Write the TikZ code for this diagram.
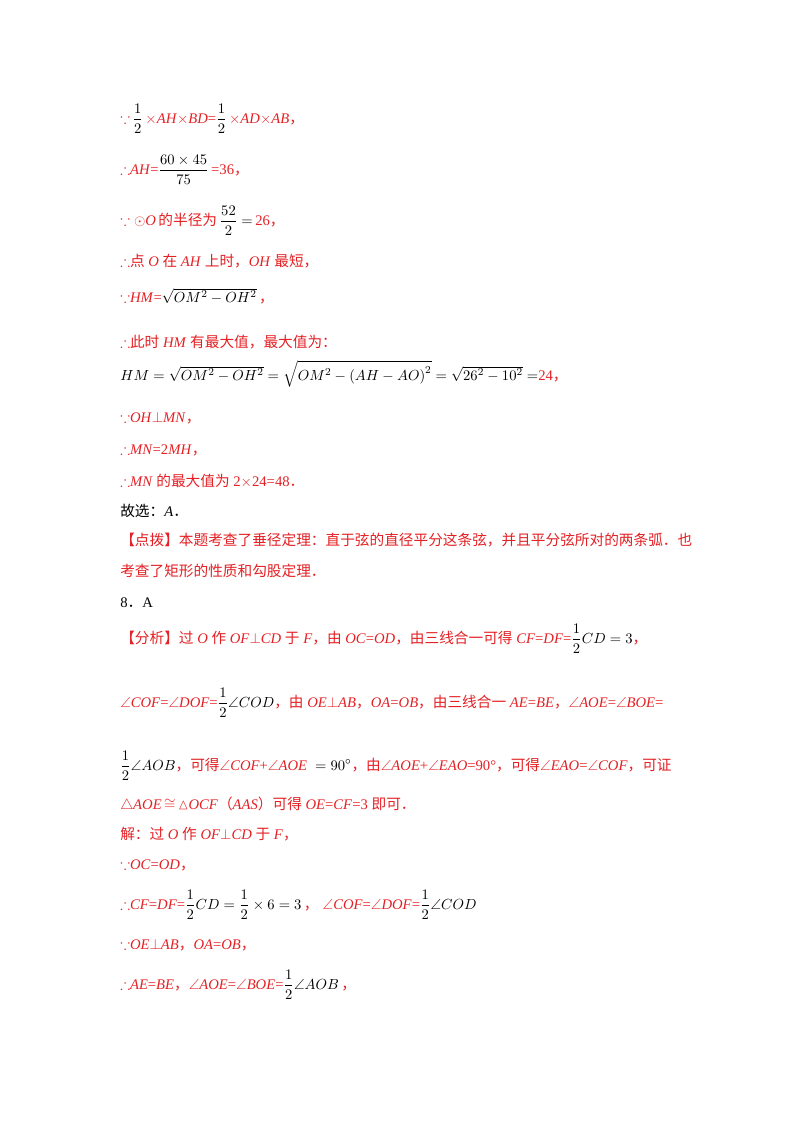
\documentclass[tikz,border=0pt]{standalone}
\usepackage{amsmath,amssymb}
\usepackage{fontspec}
\setmainfont{Liberation Serif}
\newfontfamily\cjk{Noto Sans CJK SC}
\newcommand{\C}[1]{{\cjk #1}}
\newcommand{\I}[1]{\textit{#1}}
\definecolor{rd}{RGB}{228,32,36}
\begin{document}
\begin{tikzpicture}[x=0.75pt,y=-0.75pt,
  txt/.style={anchor=base west,inner sep=0pt,font=\fontsize{11}{13}\selectfont,text=rd},
  blk/.style={txt,text=black}]
\useasboundingbox (0,0) rectangle (800,1132);
\node[txt] (l1) at (120,123) {$\because$\,\textcolor{black}{$\dfrac{1}{2}$}\,$\times$\I{AH}$\times$\I{BD}=\textcolor{black}{$\dfrac{1}{2}$}\,$\times$\I{AD}$\times$\I{AB}\C{，}};
\node[txt] (l2) at (120,174) {$\therefore$\I{AH}=\textcolor{black}{$\dfrac{60\times45}{75}$}\,=36\C{，}};
\node[txt] (l3) at (120,225) {$\because\odot$\I{O}\,\C{的半径为}\,\textcolor{black}{$\dfrac{52}{2}=$}\,26\C{，}};
\node[txt] (l4) at (120,266) {$\boldsymbol{\therefore}$\C{点} \I{O} \C{在} \I{AH} \C{上时，}\I{OH} \C{最短，}};
\node[txt] (l5) at (120,302) {$\because$\I{HM}=\textcolor{black}{$\sqrt{OM^2-OH^2}$}\,\C{，}};
\node[txt] (l6) at (120,347) {$\boldsymbol{\therefore}$\C{此时} \I{HM} \C{有最大值，最大值为：}};
\node[txt] (l7) at (120,380) {\textcolor{black}{$HM=\sqrt{OM^2-OH^2}=\sqrt{OM^2-\left(AH-AO\right)^2}=\sqrt{26^2-10^2}=$}24\C{，}};
\node[txt] (l8) at (120,422) {$\because$\I{OH}$\perp$\I{MN}\C{，}};
\node[txt] (l9) at (120,454) {$\therefore$\I{MN}=2\I{MH}\C{，}};
\node[txt] (l10) at (120,486) {$\therefore$\I{MN} \C{的最大值为} 2$\times$24=48\C{．}};
\node[blk] (l11) at (120,516) {\C{故选：}\I{A}\C{．}};
\node[txt] (l12) at (120,545) {\C{【点拨】本题考查了垂径定理：直于弦的直径平分这条弦，并且平分弦所对的两条弧．也}};
\node[txt] (l13) at (120,576) {\C{考查了矩形的性质和勾股定理．}};
\node[blk] (l14) at (120,607) {8\C{．}A};
\node[txt] (l15) at (120,643) {\C{【分析】过} \I{O} \C{作} \I{OF}$\perp$\I{CD} \C{于} \I{F}\C{，由} \I{OC}=\I{OD}\C{，由三线合一可得} \I{CF}=\I{DF}=\textcolor{black}{$\dfrac{1}{2}CD=3$}\C{，}};
\node[txt] (l16) at (120,707) {$\angle$\I{COF}=$\angle$\I{DOF}=\textcolor{black}{$\dfrac{1}{2}\angle COD$}\C{，由} \I{OE}$\perp$\I{AB}\C{，}\I{OA}=\I{OB}\C{，由三线合一} \I{AE}=\I{BE}\C{，}$\angle$\I{AOE}=$\angle$\I{BOE}=};
\node[txt] (l17) at (120,770) {\textcolor{black}{$\dfrac{1}{2}\angle AOB$}\C{，可得}$\angle$\I{COF}+$\angle$\I{AOE}\;\textcolor{black}{${}=90^\circ$}\C{，由}$\angle$\I{AOE}+$\angle$\I{EAO}=90°\C{，可得}$\angle$\I{EAO}=$\angle$\I{COF}\C{，可证}};
\node[txt] (l18) at (120,809) {$\triangle$\I{AOE}\,$\cong$\,$\vartriangle$\I{OCF}\C{（}\I{AAS}\C{）可得} \I{OE}=\I{CF}=3 \C{即可．}};
\node[txt] (l19) at (120,839) {\C{解：过} \I{O} \C{作} \I{OF}$\perp$\I{CD} \C{于} \I{F}\C{，}};
\node[txt] (l20) at (120,869) {$\because$\I{OC}=\I{OD}\C{，}};
\node[txt] (l21) at (120,909) {$\therefore$\I{CF}=\I{DF}=\textcolor{black}{$\dfrac{1}{2}CD=\dfrac{1}{2}\times6=3$}\,\C{，}\;$\angle$\I{COF}=$\angle$\I{DOF}=\textcolor{black}{$\dfrac{1}{2}\angle COD$}};
\node[txt] (l22) at (120,949) {$\because$\I{OE}$\perp$\I{AB}\C{，}\I{OA}=\I{OB}\C{，}};
\node[txt] (l23) at (120,989) {$\therefore$\I{AE}=\I{BE}\C{，}$\angle$\I{AOE}=$\angle$\I{BOE}=\textcolor{black}{$\dfrac{1}{2}\angle AOB$}\,\C{，}};
\end{tikzpicture}
\end{document}
